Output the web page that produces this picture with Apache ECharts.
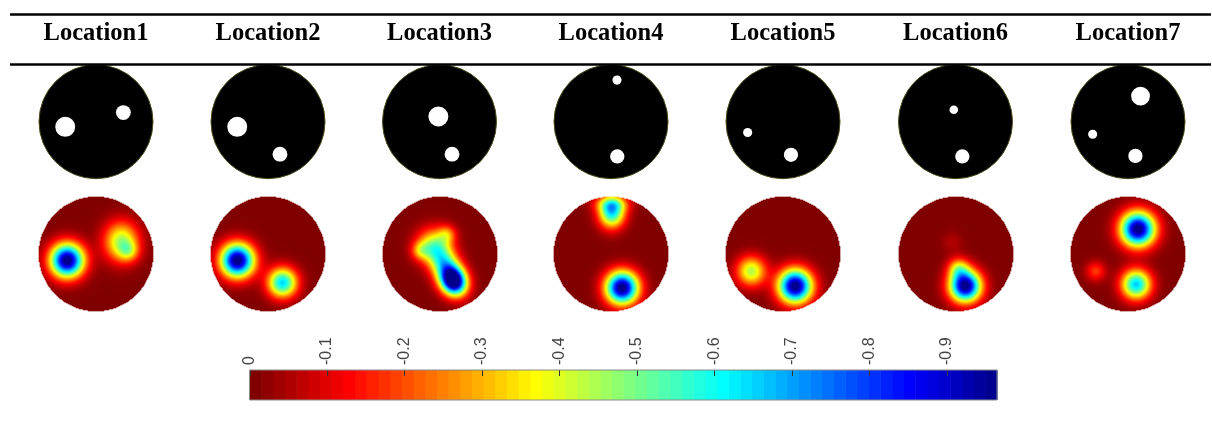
<!DOCTYPE html>
<html>
<head>
<meta charset="utf-8">
<script src="https://cdn.jsdelivr.net/npm/echarts@6/dist/echarts.min.js"></script>
<style>
html,body{margin:0;padding:0;background:#ffffff;}
#chart{width:1212px;height:426px;}
</style>
</head>
<body>
<div id="chart"></div>
<script>
// ---------- data ----------
const locations = ['Location1','Location2','Location3','Location4','Location5','Location6','Location7'];

// true inclusions: [x, y, radius] in units of the tank radius (y up)
const truth1 = [[-0.54,-0.09,0.175],[0.48,0.16,0.13]];
const truth2 = [[-0.54,-0.09,0.175],[0.21,-0.57,0.13]];
const truth3 = [[-0.02,0.09,0.175],[0.22,-0.57,0.13]];
const truth4 = [[0.105,0.73,0.08],[0.11,-0.61,0.125]];
const truth5 = [[-0.62,-0.19,0.08],[0.14,-0.58,0.125]];
const truth6 = [[-0.03,0.21,0.076],[0.12,-0.61,0.125]];
const truth7 = [[0.22,0.45,0.165],[-0.62,-0.22,0.08],[0.13,-0.60,0.125]];

// reconstructed anomalies: [x, y, spreadMajor, spreadMinor, angleDeg, peakValue]
const recon1 = [[-0.50,-0.11,0.205,0.205,0,-1.0],[0.45,0.22,0.24,0.21,90,-0.45],[0.58,0.05,0.12,0.12,0,-0.2]];
const recon2 = [[-0.53,-0.11,0.205,0.205,0,-1.0],[0.26,-0.50,0.18,0.18,0,-0.65]];
const recon3 = [[0.25,-0.48,0.17,0.15,-62,-0.85],[0.12,-0.24,0.28,0.17,-62,-0.58],[-0.10,0.15,0.21,0.21,0,-0.38],[-0.34,0.06,0.11,0.11,0,-0.2],[0.13,0.35,0.11,0.11,0,-0.2]];
const recon4 = [[0.02,0.74,0.19,0.16,90,-0.64],[0.02,0.88,0.21,0.09,0,-0.2],[0.20,-0.59,0.20,0.20,0,-1.0]];
const recon5 = [[-0.55,-0.30,0.18,0.18,0,-0.44],[0.22,-0.56,0.205,0.205,0,-1.0]];
const recon6 = [[-0.06,0.21,0.13,0.13,0,-0.05],[0.17,-0.56,0.19,0.19,0,-1.0],[0.05,-0.25,0.13,0.13,0,-0.3]];
const recon7 = [[0.18,0.44,0.21,0.21,0,-1.0],[0.15,-0.53,0.18,0.18,0,-0.66],[-0.56,-0.30,0.12,0.12,0,-0.18]];

const colorbarTicks = [0,-0.1,-0.2,-0.3,-0.4,-0.5,-0.6,-0.7,-0.8,-0.9];
const colorMin = -0.965, colorMax = 0;

const truths = [truth1,truth2,truth3,truth4,truth5,truth6,truth7];
const recons = [recon1,recon2,recon3,recon4,recon5,recon6,recon7];

// ---------- layout / style ----------
const cxs = [96, 268, 439.5, 611, 783, 955.5, 1128];
const topCy = 121.7, topR = 57;
const botTop = 197, botSize = 114;
const N = 114;

function clamp(x){ return Math.max(0, Math.min(1, x)); }
function jet(t){
  const r = clamp(1.5 - Math.abs(4*t - 3));
  const g = clamp(1.5 - Math.abs(4*t - 2));
  const b = clamp(1.5 - Math.abs(4*t - 1));
  return 'rgb(' + Math.round(r*255) + ',' + Math.round(g*255) + ',' + Math.round(b*255) + ')';
}
const jet64 = [];
for (let k = 0; k < 64; k++) jet64.push(jet((k + 1) / 64));

function field(blobs, x, y){
  let v = 0;
  for (const b of blobs){
    const a = b[4] * Math.PI / 180;
    const dx = x - b[0], dy = y - b[1];
    const u = dx*Math.cos(a) + dy*Math.sin(a);
    const w = -dx*Math.sin(a) + dy*Math.cos(a);
    v += b[5] * Math.exp(-0.5*(u*u/(b[2]*b[2]) + w*w/(b[3]*b[3])));
  }
  return Math.max(colorMin, Math.min(colorMax, v));
}

const grids = [], xAxes = [], yAxes = [], series = [];
const cats = [];
for (let i = 0; i < N; i++) cats.push(String(i));

// top row: phantoms
for (let i = 0; i < 7; i++){
  grids.push({left: cxs[i]-topR, top: topCy-topR, width: 2*topR, height: 2*topR});
  xAxes.push({type:'value', gridIndex:i, min:-1, max:1, show:false});
  yAxes.push({type:'value', gridIndex:i, min:-1, max:1, show:false});
}
// second row: reconstructions
for (let i = 0; i < 7; i++){
  grids.push({left: Math.round(cxs[i]-botSize/2), top: botTop, width: botSize, height: botSize});
  xAxes.push({type:'category', gridIndex:7+i, data:cats, show:false});
  yAxes.push({type:'category', gridIndex:7+i, data:cats, show:false});
}
// colorbar
grids.push({left:249.5, top:370, width:747.5, height:30, show:true, borderColor:'#8a8a8a', borderWidth:1, backgroundColor:'transparent', z:10});
xAxes.push({type:'value', gridIndex:14, min:colorMin, max:colorMax, inverse:true, position:'top',
  axisLine:{show:false}, splitLine:{show:false}, axisTick:{show:false},
  axisLabel:{show:true, customValues:colorbarTicks, rotate:90, margin:5, fontSize:16, color:'#444', fontFamily:'Liberation Sans',
    formatter: v => (Math.abs(v) < 1e-9 ? '0' : v.toFixed(1))}
});
yAxes.push({type:'value', gridIndex:14, min:0, max:1, show:false});

function circleItem(fill, stroke){
  return function(params, api){
    const c = api.coord([api.value(0), api.value(1)]);
    const s = api.size([api.value(2), api.value(2)]);
    return {type:'circle', shape:{cx:c[0], cy:c[1], r:s[0]}, style:{fill:fill, stroke:stroke, lineWidth: stroke ? 1 : 0}};
  };
}

for (let i = 0; i < 7; i++){
  series.push({type:'custom', xAxisIndex:i, yAxisIndex:i, data:[[0,0,1]], renderItem: circleItem('#000000','#4a4a18'), silent:true, z:2});
  series.push({type:'custom', xAxisIndex:i, yAxisIndex:i, data:truths[i], renderItem: circleItem('#ffffff', null), silent:true, z:3});
}
const heatIdx = [];
for (let i = 0; i < 7; i++){
  const data = [];
  for (let ix = 0; ix < N; ix++){
    for (let iy = 0; iy < N; iy++){
      const x = -1 + (ix + 0.5) * 2 / N;
      const y = -1 + (iy + 0.5) * 2 / N;
      if (x*x + y*y <= 1) data.push([ix, iy, field(recons[i], x, y)]);
    }
  }
  heatIdx.push(series.length);
  series.push({type:'heatmap', xAxisIndex:7+i, yAxisIndex:7+i, data:data, progressive:0, silent:true, emphasis:{disabled:true}});
}
// colorbar bands
const bands = [];
for (let k = 0; k < 64; k++){
  const v0 = colorMin + k*(colorMax-colorMin)/64;
  const v1 = colorMin + (k+1)*(colorMax-colorMin)/64;
  bands.push([v0, v1, k]);
}
series.push({type:'custom', xAxisIndex:14, yAxisIndex:14, data:bands, silent:true, z:2,
  renderItem: function(params, api){
    const p0 = api.coord([api.value(0), 0]);
    const p1 = api.coord([api.value(1), 1]);
    const x = Math.min(p0[0], p1[0]);
    return {type:'rect', shape:{x:x, y:p1[1], width:Math.abs(p1[0]-p0[0])+0.6, height:p0[1]-p1[1]},
      style:{fill: jet64[api.value(2)]}};
  }
});
// colorbar tick marks
series.push({type:'custom', xAxisIndex:14, yAxisIndex:14, data:colorbarTicks.map(v => [v]), silent:true, z:5,
  renderItem: function(params, api){
    const p = api.coord([api.value(0), 1]);
    const x = Math.round(p[0]) + 0.5;
    return {type:'line', shape:{x1:x, y1:p[1], x2:x, y2:p[1]+6}, style:{stroke:'#333', lineWidth:1}};
  }
});

const graphic = [
  {type:'line', shape:{x1:10, y1:14.5, x2:1211, y2:14.5}, style:{stroke:'#000', lineWidth:2.4}, z:100},
  {type:'line', shape:{x1:10, y1:64.5, x2:1211, y2:64.5}, style:{stroke:'#000', lineWidth:2.3}, z:100}
];
for (let i = 0; i < 7; i++){
  graphic.push({type:'text', x:cxs[i], y:34, z:100, style:{text:locations[i], fill:'#000',
    font:'bold 24.5px "Liberation Serif"', textAlign:'center', textVerticalAlign:'middle'}});
}

const chart = echarts.init(document.getElementById('chart'), null, {renderer:'canvas'});
chart.setOption({
  animation:false,
  backgroundColor:'#ffffff',
  grid:grids, xAxis:xAxes, yAxis:yAxes,
  visualMap:{type:'continuous', show:false, min:colorMin, max:colorMax, seriesIndex:heatIdx, dimension:2, inRange:{color:jet64}},
  series:series,
  graphic:graphic
});
</script>
</body>
</html>
